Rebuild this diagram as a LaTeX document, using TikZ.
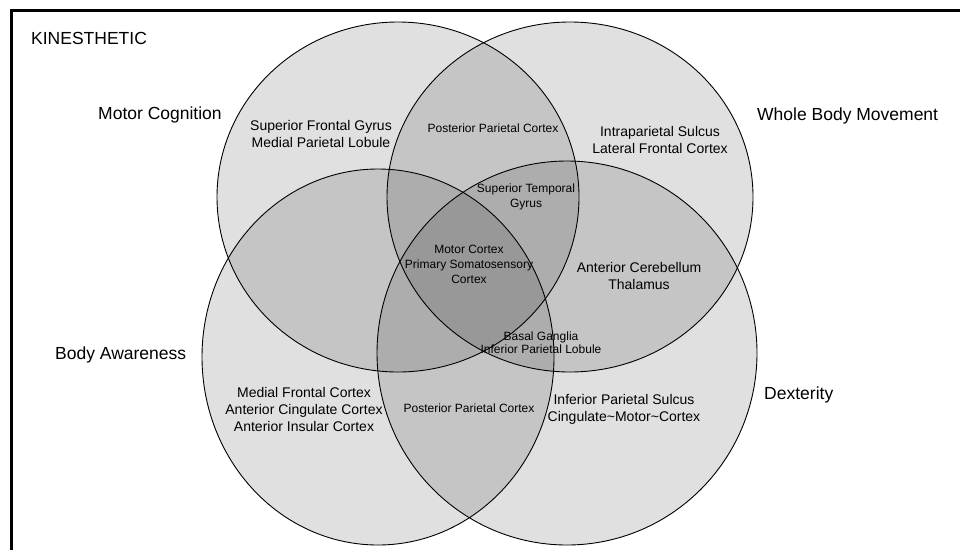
\documentclass[tikz,border=0pt]{standalone}
\usepackage{fontspec}
\setmainfont{Liberation Sans}
\begin{document}
\begin{tikzpicture}[x=1pt,y=-1pt,
  setfill/.style={fill=black,fill opacity=0.12},
  setline/.style={draw=black,line width=0.9pt},
  biglabel/.style={inner sep=0pt,anchor=west,font=\fontsize{17.5}{21}\selectfont},
  midtext/.style={inner sep=0pt,align=center,font=\fontsize{14}{17}\selectfont},
  smalltext/.style={inner sep=0pt,align=center,font=\fontsize{12}{15}\selectfont}]
\useasboundingbox (0,0) rectangle (960,549);

% the four overlapping sets, shaded so that overlaps darken
\fill[setfill] (398,197) ellipse [x radius=181pt, y radius=175pt];
\fill[setfill] (570,197) ellipse [x radius=183pt, y radius=175pt];
\fill[setfill] (378,357) ellipse [x radius=176pt, y radius=188pt];
\fill[setfill] (567,353) ellipse [x radius=190pt, y radius=192pt];

\draw[setline] (398,197) ellipse [x radius=181pt, y radius=175pt];
\draw[setline] (570,197) ellipse [x radius=183pt, y radius=175pt];
\draw[setline] (378,357) ellipse [x radius=176pt, y radius=188pt];
\draw[setline] (567,353) ellipse [x radius=190pt, y radius=192pt];

% frame
\draw[line width=3pt,line join=miter] (11.5,600) -- (11.5,10.5) -- (1000,10.5);

% set names
\node[biglabel] (title) at (31,38) {KINESTHETIC};
\node[biglabel] (mc) at (98,115) {Motor Cognition};
\node[biglabel] (wbm) at (757,116) {Whole Body Movement};
\node[biglabel] (ba) at (55,355) {Body Awareness};
\node[biglabel] (dex) at (764,395) {Dexterity};

% region contents
\node[midtext] (r1) at (321,134) {Superior Frontal Gyrus\\Medial Parietal Lobule};
\node[smalltext] (r2) at (493,128) {Posterior Parietal Cortex};
\node[midtext] (r3) at (660,140) {Intraparietal Sulcus\\Lateral Frontal Cortex};
\node[smalltext] (r4) at (526,197) {Superior Temporal\\Gyrus};
\node[smalltext] (r5) at (469,264) {Motor Cortex\\Primary Somatosensory\\Cortex};
\node[midtext] (r6) at (639,276) {Anterior Cerebellum\\Thalamus};
\node[smalltext,font=\fontsize{12}{12.7}\selectfont] (r7) at (541,343) {Basal Ganglia\\Inferior Parietal Lobule};
\node[midtext] (r8) at (304,409) {Medial Frontal Cortex\\Anterior Cingulate Cortex\\Anterior Insular Cortex};
\node[smalltext] (r9) at (469,408) {Posterior Parietal Cortex};
\node[midtext] (r10) at (624,409) {Inferior Parietal Sulcus\\Cingulate\textasciitilde Motor\textasciitilde Cortex};
\end{tikzpicture}
\end{document}
